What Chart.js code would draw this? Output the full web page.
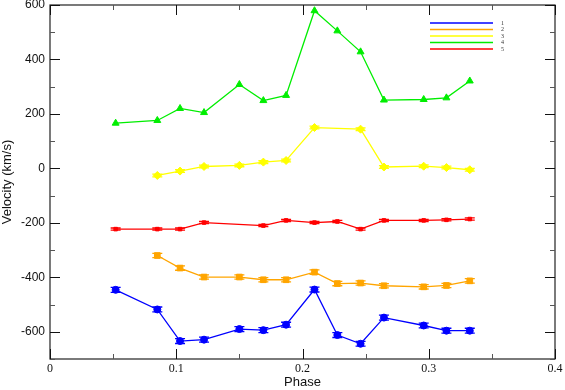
<!DOCTYPE html>
<html><head><meta charset="utf-8">
<script src="https://cdn.jsdelivr.net/npm/chart.js@4/dist/chart.umd.min.js"></script>
<style>html,body{margin:0;padding:0;background:#fff}#wrap{width:565px;height:390px}</style>
</head><body><div id="wrap"><canvas id="c"></canvas></div>
<script>
const phases = [0.052, 0.085, 0.103, 0.122, 0.150, 0.169, 0.187, 0.2095, 0.2276, 0.246, 0.2645, 0.296, 0.314, 0.3325];
const series1 = [-446, -518, -634, -629, -590, -594, -574, -445, -612, -644, -548, -577, -596, -596];
const series2 = [null, -320, -366, -399, -399, -409, -409, -381, -423, -421, -431, -435, -430, -413];
const series3 = [null, -26, -10, 7, 11, 23, 29, 150, null, 144, 5, 8, 3, -5];
const series4 = [166, 176, 220, 205, 308, 249, 268, 579, 505, 428, 251, 253, 259, 321];
const series5 = [-223, -223, -223, -199, null, -210, -191, -199, -195, -223, -191, -191, -189, -186];
const err1 = [9, 9, 9, 9, 9, 9, 9, 9, 9, 9, 9, 9, 9, 9];
const err2 = [8, 8, 8, 8, 8, 8, 8, 8, 8, 8, 8, 8, 8, 8];
const err3 = [5, 5, 5, 5, 5, 5, 5, 5, 5, 5, 5, 5, 5, 5];
const err4 = [0, 0, 0, 0, 0, 0, 0, 0, 0, 0, 0, 0, 0, 0];
const err5 = [4, 4, 4, 4, 4, 4, 4, 4, 4, 4, 4, 4, 4, 4];
const seriesLabels = ['1', '2', '3', '4', '5'];
const xTicks = [0, 0.1, 0.2, 0.3, 0.4];
const yTicks = [-600, -400, -200, 0, 200, 400, 600];

function pts(vals, errs) {
  const out = [];
  vals.forEach((v, i) => { if (v !== null) out.push({x: phases[i], y: v, e: errs[i]}); });
  return out;
}
function ds(label, vals, errs, color, style, r) {
  return {label, data: pts(vals, errs), borderColor: color, backgroundColor: color,
    borderWidth: 1.3, pointStyle: style, pointRadius: r, pointHoverRadius: r,
    pointBorderWidth: 1, tension: 0, fill: false};
}

const frame = {
  id: 'frame',
  afterDatasetsDraw(chart) {
    const ctx = chart.ctx, a = chart.chartArea, xs = chart.scales.x, ys = chart.scales.y;
    ctx.save();
    chart.data.datasets.forEach(d => {
      ctx.strokeStyle = d.borderColor; ctx.lineWidth = 1.3;
      d.data.forEach(p => {
        if (!p.e) return;
        const px = xs.getPixelForValue(p.x), y1 = ys.getPixelForValue(p.y - p.e), y2 = ys.getPixelForValue(p.y + p.e);
        ctx.beginPath();
        ctx.moveTo(px, y1); ctx.lineTo(px, y2);
        ctx.moveTo(px - 5, y1); ctx.lineTo(px + 5, y1);
        ctx.moveTo(px - 5, y2); ctx.lineTo(px + 5, y2);
        ctx.stroke();
      });
    });
    ctx.strokeStyle = '#222'; ctx.lineWidth = 1.2;
    ctx.strokeRect(a.left, a.top, a.right - a.left, a.bottom - a.top);
    ctx.lineWidth = 1;
    for (let v = 0; v <= 0.4001; v += 0.05) {
      const major = Math.abs(v * 10 - Math.round(v * 10)) < 1e-6;
      const L = major ? 10 : 5;
      const px = Math.round(xs.getPixelForValue(v)) + 0.5;
      ctx.strokeStyle = major ? '#111' : '#555';
      ctx.beginPath();
      ctx.moveTo(px, a.bottom); ctx.lineTo(px, a.bottom - L);
      ctx.moveTo(px, a.top); ctx.lineTo(px, a.top + L);
      ctx.stroke();
    }
    for (let v = -700; v <= 600; v += 100) {
      const major = v % 200 === 0;
      const L = major ? 10 : 5;
      const py = Math.round(ys.getPixelForValue(v)) + 0.5;
      ctx.strokeStyle = major ? '#111' : '#555';
      ctx.beginPath();
      ctx.moveTo(a.left, py); ctx.lineTo(a.left + L, py);
      ctx.moveTo(a.right, py); ctx.lineTo(a.right - L, py);
      ctx.stroke();
    }
    const lx0 = a.right - 125, lx1 = a.right - 62;
    chart.data.datasets.forEach((d, i) => {
      const ly = a.top + 18 + i * 6.5;
      ctx.strokeStyle = d.borderColor; ctx.lineWidth = 1.3;
      ctx.beginPath(); ctx.moveTo(lx0, ly); ctx.lineTo(lx1, ly); ctx.stroke();
      ctx.fillStyle = '#333'; ctx.font = '6px "Liberation Serif"';
      ctx.textBaseline = 'middle'; ctx.textAlign = 'left';
      ctx.fillText(d.label, lx1 + 8, ly);
    });
    ctx.restore();
  }
};

new Chart(document.getElementById('c'), {
  type: 'line',
  data: {datasets: [
    ds(seriesLabels[0], series1, err1, '#0000ff', 'circle', 3.5),
    ds(seriesLabels[1], series2, err2, '#ffa500', 'rect', 4),
    ds(seriesLabels[2], series3, err3, '#ffff00', 'rectRot', 4),
    ds(seriesLabels[3], series4, err4, '#00ee00', 'triangle', 4),
    ds(seriesLabels[4], series5, err5, '#ff0000', 'rect', 2.5)
  ]},
  options: {
    responsive: true, maintainAspectRatio: false, animation: false,
    layout: {padding: {top: 5, right: 10, left: 0, bottom: 0}},
    plugins: {legend: {display: false}, tooltip: {enabled: false}},
    scales: {
      x: {type: 'linear', min: 0, max: 0.4,
        afterBuildTicks: s => { s.ticks = xTicks.map(v => ({value: v})); },
        afterFit: s => { s.height = 31; s.paddingLeft = 0; s.paddingRight = 0; },
        grid: {display: false, drawTicks: false}, border: {display: false},
        ticks: {padding: 3, color: '#111', font: {family: '"Liberation Serif"', size: 12}, maxRotation: 0},
        title: {display: true, text: 'Phase', color: '#111', padding: 0, font: {family: '"Liberation Sans"', size: 13}}
      },
      y: {type: 'linear', min: -700, max: 600,
        afterBuildTicks: s => { s.ticks = yTicks.map(v => ({value: v})); },
        afterFit: s => { s.width = 50; s.paddingTop = 0; s.paddingBottom = 0; },
        grid: {display: false, drawTicks: false}, border: {display: false},
        ticks: {padding: 5, color: '#111', font: {family: '"Liberation Sans"', size: 12}},
        title: {display: true, text: 'Velocity (km/s)', color: '#111', padding: 0, font: {family: '"Liberation Sans"', size: 13}}
      }
    }
  },
  plugins: [frame]
});
</script></body></html>
